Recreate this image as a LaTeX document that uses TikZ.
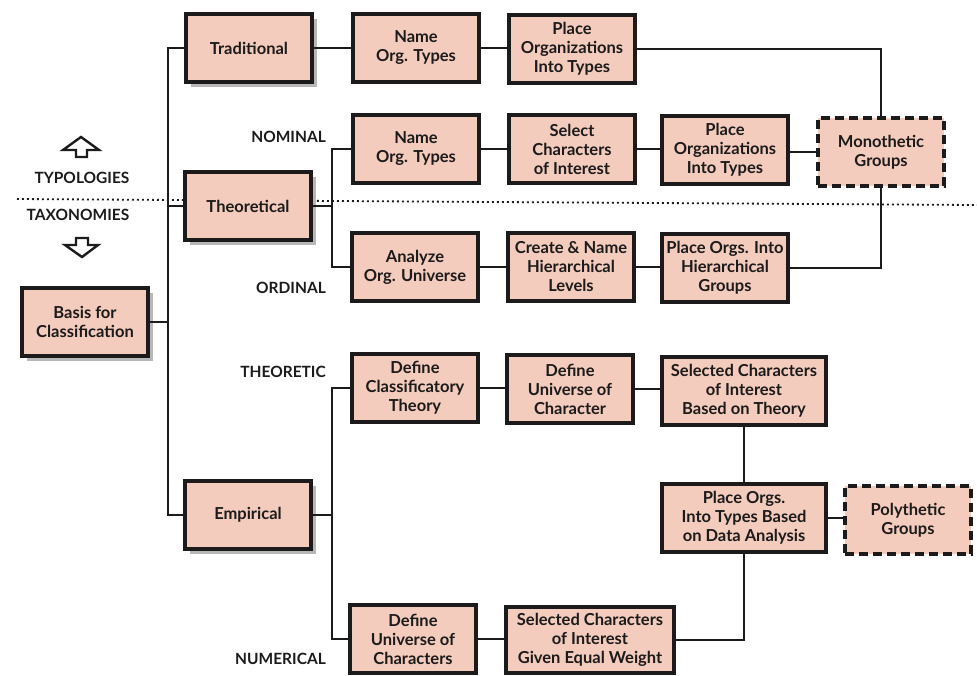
\documentclass[tikz,border=0pt]{standalone}
\usepackage{fontspec}
\setmainfont{Lato}
\usetikzlibrary{shadows}
\definecolor{boxfill}{RGB}{243,204,189}
\definecolor{ink}{RGB}{28,26,26}
\newcommand{\boxfont}{\fontsize{16.5}{19}\selectfont\bfseries}
\newcommand{\labfont}{\fontsize{15.5}{19}\selectfont\bfseries}
\begin{document}
\begin{tikzpicture}[x=1pt,y=-1pt,
  box/.style={draw=ink, line width=3.3pt, fill=boxfill, minimum width=126pt,
    minimum height=68pt, align=center, inner sep=2pt, font=\boxfont, text=ink},
  shade/.style={drop shadow={shadow xshift=5pt, shadow yshift=-5pt, fill=black!28, opacity=1}},
  groupbox/.style={box, dash pattern=on 9pt off 5pt},
  lab/.style={font=\labfont, text=ink, inner sep=0pt},
  wire/.style={draw=ink, line width=2.8pt},
  hollow/.style={draw=ink, line width=2.4pt, fill=white, line join=miter}]
\useasboundingbox (0,0) rectangle (977,675);

% boundary between typologies and taxonomies
\draw[ink, line width=1.8pt, dash pattern=on 1.8pt off 3.2pt] (17,199) -- (977,205);

% left column
\node[box, shade] (trad)  at (249,48)  {Traditional};
\node[box, shade] (theo)  at (248,206) {Theoretical};
\node[box, shade] (basis) at (85,322)  {Basis for\\Classification};
\node[box, shade] (emp)   at (248,515) {Empirical};

% traditional row
\node[box] (tn1) at (416,48) {Name\\Org. Types};
\node[box] (tn2) at (572,49) {Place\\Organizations\\Into Types};

% nominal row
\node[box] (nom1) at (416,149) {Name\\Org. Types};
\node[box] (nom2) at (572,149) {Select\\Characters\\of Interest};
\node[box] (nom3) at (725,150) {Place\\Organizations\\Into Types};
\node[groupbox] (mono) at (881,152) {Monothetic\\Groups};

% ordinal row
\node[box] (ord1) at (415,267) {Analyze\\Org. Universe};
\node[box] (ord2) at (571,267) {Create \& Name\\Hierarchical\\Levels};
\node[box] (ord3) at (725,268) {Place Orgs. Into\\Hierarchical\\Groups};

% theoretic row
\node[box] (th1) at (415,388) {Define\\Classificatory\\Theory};
\node[box] (th2) at (570,389) {Define\\Universe of\\Character};
\node[box, minimum width=164pt] (th3) at (744,391) {Selected Characters\\of Interest\\Based on Theory};
\node[box, minimum width=164pt] (pod) at (744,518) {Place Orgs.\\Into Types Based\\on Data Analysis};
\node[groupbox] (poly) at (908,520) {Polythetic\\Groups};

% numerical row
\node[box] (num1) at (413,639) {Define\\Universe of\\Characters};
\node[box, minimum width=168pt, minimum height=66pt] (num2) at (590,640) {Selected Characters\\of Interest\\Given Equal Weight};

% side labels
\node[lab, anchor=east] (lnom) at (326,137) {NOMINAL};
\node[lab, anchor=east] (lord) at (326,288) {ORDINAL};
\node[lab, anchor=east] (lthe) at (326,372) {THEORETIC};
\node[lab, anchor=east] (lnum) at (326,659) {NUMERICAL};
\node[lab] (ltyp) at (82,178) {TYPOLOGIES};
\node[lab] (ltax) at (78,215) {TAXONOMIES};

% hollow arrows
\draw[hollow] (81,137) -- (99,150) -- (87,150) -- (87,157) -- (76,157) -- (76,150) -- (63,150) -- cycle;
\draw[hollow] (76,238) -- (88,238) -- (88,245) -- (98,245) -- (82,257) -- (65,245) -- (76,245) -- cycle;

% bus positions
\coordinate (busL) at (168,0);
\coordinate (busM) at (332,0);

% main spine
\draw[wire] (trad.west) -- (trad.west -| busL) -- (emp.west -| busL) -- (emp.west);
\draw[wire] (theo.west) -- (theo.west -| busL);
\draw[wire] (basis.east) -- (basis.east -| busL);

% traditional chain
\draw[wire] (trad.east) -- (trad.east -| tn1.west);
\draw[wire] (tn1.east) -- (tn1.east -| tn2.west);
\draw[wire] (tn2.east) -| (mono.north);

% theoretical branches
\draw[wire] (theo.east) -- (theo.east -| busM);
\draw[wire] (nom1.west) -- (nom1.west -| busM) -- (ord1.west -| busM) -- (ord1.west);
\draw[wire] (nom1.east) -- (nom1.east -| nom2.west);
\draw[wire] (nom2.east) -- (nom2.east -| nom3.west);
\draw[wire] (mono.west) -- (mono.west -| nom3.east);
\draw[wire] (ord1.east) -- (ord1.east -| ord2.west);
\draw[wire] (ord2.east) -- (ord2.east -| ord3.west);
\draw[wire] (ord3.east) -| (mono.south);

% empirical branches
\draw[wire] (emp.east) -- (emp.east -| busM);
\draw[wire] (th1.west) -- (th1.west -| busM) -- (num1.west -| busM) -- (num1.west);
\draw[wire] (th1.east) -- (th1.east -| th2.west);
\draw[wire] (th2.east) -- (th2.east -| th3.west);
\draw[wire] (th3.south) -- (pod.north);
\draw[wire] (pod.east) -- (pod.east -| poly.west);
\draw[wire] (num1.east) -- (num1.east -| num2.west);
\draw[wire] (pod.south) |- (num2.east);
\end{tikzpicture}
\end{document}
